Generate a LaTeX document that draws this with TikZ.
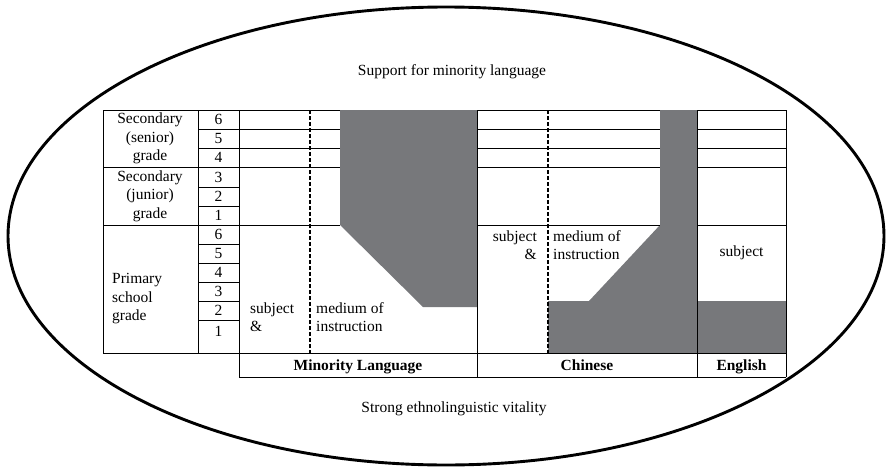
\documentclass[tikz,border=0pt]{standalone}
\usepackage{fontspec}
\setmainfont{Liberation Serif}
\usetikzlibrary{positioning}
\definecolor{shade}{HTML}{77787B}

\begin{document}
\begin{tikzpicture}[
  x=1pt, y=-1pt,
  txt/.style={font=\fontsize{15.5}{18.5}\selectfont, inner sep=0pt},
  lbl/.style={txt, align=center},
  lft/.style={txt, align=left, anchor=west},
  rgt/.style={txt, align=right, anchor=east},
  hdr/.style={txt, font=\fontsize{15.5}{18.5}\selectfont\bfseries, anchor=base},
  grid/.style={line width=0.9pt},
  dashline/.style={line width=1.4pt, dash pattern=on 3.5pt off 2.5pt},
  block/.style={fill=shade}
]
  \useasboundingbox (0,0) rectangle (889,466);

  % outer ellipse
  \draw[line width=2.9pt] (446,236) ellipse [x radius=438pt, y radius=229pt];
  \node[lbl] (support) at (452,72) {Support for minority language};
  \node[lbl] (vitality) at (454,409) {Strong ethnolinguistic vitality};

  % shaded blocks
  \fill[block] (340,110) -- (477,110) -- (477,307) -- (423,307) -- (340,225) -- cycle;
  \fill[block] (660,110) -- (697,110) -- (697,353) -- (548,353) -- (548,301)
               -- (589,301) -- (660,225) -- cycle;
  \fill[block] (697,301) rectangle (786,353);

  % horizontal rules
  \draw[grid] (103,110) -- (340,110) (477,110) -- (660,110) (697,110) -- (786,110);
  \draw[grid] (198,129) -- (340,129) (477,129) -- (660,129) (697,129) -- (786,129);
  \draw[grid] (198,148) -- (340,148) (477,148) -- (660,148) (697,148) -- (786,148);
  \draw[grid] (103,167) -- (340,167) (477,167) -- (660,167) (697,167) -- (786,167);
  \draw[grid] (198,187) -- (239,187) (198,206) -- (239,206);
  \draw[grid] (103,225) -- (340,225) (477,225) -- (660,225) (697,225) -- (786,225);
  \draw[grid] (198,244) -- (239,244) (198,263) -- (239,263) (198,282) -- (239,282)
              (198,301) -- (239,301) (198,320) -- (239,320);
  \draw[grid] (103,353) -- (786,353);
  \draw[grid] (239,377) -- (786,377);

  % vertical rules
  \draw[grid] (103,110) -- (103,353) (198,110) -- (198,353);
  \draw[grid] (239,110) -- (239,377) (477,110) -- (477,377)
              (697,110) -- (697,377) (786,110) -- (786,377);
  \draw[dashline] (310,110) -- (310,353);
  \draw[dashline] (548,110) -- (548,353);

  % grade labels
  \node[lbl] (senior) at (150,138.5) {Secondary\\(senior)\\grade};
  \node[lbl] (junior) at (150,196) {Secondary\\(junior)\\grade};
  \node[lft] (primary) at (112,299) {Primary\\school\\grade};

  % grade numbers
  \node[txt] (s6) at (218.5,119.5) {6};
  \node[txt] (s5) at (218.5,138.5) {5};
  \node[txt] (s4) at (218.5,157.5) {4};
  \node[txt] (j3) at (218.5,177) {3};
  \node[txt] (j2) at (218.5,196.5) {2};
  \node[txt] (j1) at (218.5,215.5) {1};
  \node[txt] (p6) at (218.5,234.5) {6};
  \node[txt] (p5) at (218.5,253.5) {5};
  \node[txt] (p4) at (218.5,272.5) {4};
  \node[txt] (p3) at (218.5,291.5) {3};
  \node[txt] (p2) at (218.5,310.5) {2};
  \node[txt] (p1) at (218.5,331) {1};

  % cell texts
  \node[lft] (minsub) at (250,317) {subject\\\&};
  \node[lft] (minmed) at (316,317) {medium of\\instruction};
  \node[rgt] (chisub) at (537,245) {subject\\\&};
  \node[lft] (chimed) at (553,245) {medium of\\instruction};
  \node[lbl] (engsub) at (741.5,253) {subject};

  % column headings
  \node[hdr] (minority) at (358,370) {Minority Language};
  \node[hdr] (chinese) at (587,370) {Chinese};
  \node[hdr] (english) at (741.5,370) {English};
\end{tikzpicture}
\end{document}
